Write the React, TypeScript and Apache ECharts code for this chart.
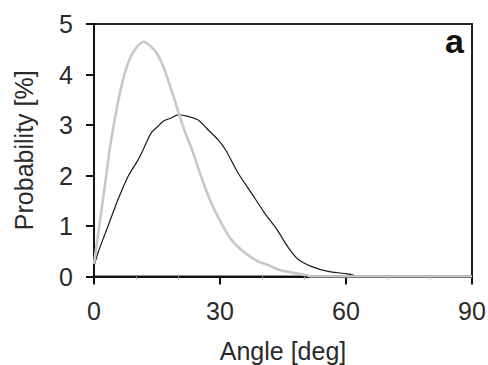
import React, { useEffect, useRef } from "react";
import * as echarts from "echarts";

// Light grey (narrow) distribution
const greyDeg = [0, 1, 2, 3, 3.7, 4.9, 6.5, 8.1, 9.7, 11.8, 13.6, 15.2, 16.8, 18.4, 20, 21.5, 23.3, 25.5, 27.9, 30.3, 32.7, 35.9, 39, 41.4, 43.8, 47, 50.5, 52, 60, 70, 80, 90];
const greyVal = [0.25, 0.85, 1.45, 2.05, 2.5, 3.1, 3.76, 4.22, 4.49, 4.65, 4.55, 4.39, 4.09, 3.7, 3.28, 2.9, 2.52, 1.98, 1.46, 1.06, 0.73, 0.47, 0.3, 0.23, 0.14, 0.08, 0.03, 0, 0, 0, 0, 0];

// Black (wide) distribution
const blackDeg = [0, 0.95, 3.3, 5.7, 8.1, 10.5, 11.7, 13.6, 15.2, 16.4, 18.4, 20, 22.4, 24.8, 27.1, 29.5, 31.3, 34.3, 37.5, 40.6, 43.8, 46.2, 48.6, 51.7, 55.7, 59.7, 61.7, 62];
const blackVal = [0.2, 0.47, 0.99, 1.52, 1.98, 2.31, 2.51, 2.84, 2.97, 3.07, 3.14, 3.2, 3.17, 3.1, 2.91, 2.71, 2.51, 2.05, 1.65, 1.26, 0.9, 0.58, 0.34, 0.2, 0.1, 0.06, 0.03, 0];

const xTicks = { min: 0, max: 90, interval: 30 };
const yTicks = { min: 0, max: 5, interval: 1 };
const xName = "Angle [deg]";
const yName = "Probability [%]";
const panelLabel = "a";

const FONT = "'Liberation Sans', Arial, Helvetica, sans-serif";

export default function App() {
  const ref = useRef<HTMLDivElement>(null);
  useEffect(() => {
    document.body.style.margin = "0";
    if (!ref.current) return;
    const chart = echarts.init(ref.current, null, { renderer: "svg" });
    const greyData = greyDeg.map((d, i) => [d, greyVal[i]]);
    const blackData = blackDeg.map((d, i) => [d, blackVal[i]]);
    chart.setOption({
      animation: false,
      backgroundColor: "#ffffff",
      grid: {
        left: 94,
        right: 16,
        top: 24,
        bottom: 88.5,
        containLabel: false,
        outerBoundsMode: "none",
        show: true,
        borderColor: "#222",
        borderWidth: 2,
        backgroundColor: "transparent",
      },
      xAxis: {
        type: "value",
        min: xTicks.min,
        max: xTicks.max,
        interval: xTicks.interval,
        name: xName,
        nameLocation: "middle",
        nameGap: 62,
        nameTextStyle: { fontFamily: FONT, fontSize: 25, color: "#2a2a2a" },
        axisLine: { show: true, onZero: false, lineStyle: { color: "#111", width: 2 } },
        axisTick: { show: true, inside: false, length: 8, lineStyle: { color: "#111", width: 2 } },
        minorTick: { show: true, splitNumber: 3, length: 3, lineStyle: { color: "#aaa", width: 1 } },
        axisLabel: { fontFamily: FONT, fontSize: 25, color: "#2a2a2a", margin: 22 },
        splitLine: { show: false },
      },
      yAxis: {
        type: "value",
        min: yTicks.min,
        max: yTicks.max,
        interval: yTicks.interval,
        name: yName,
        nameLocation: "middle",
        nameGap: 58,
        nameRotate: 90,
        nameTextStyle: { fontFamily: FONT, fontSize: 25, color: "#2a2a2a" },
        axisLine: { show: true, onZero: false, lineStyle: { color: "#111", width: 2 } },
        axisTick: { show: true, inside: false, length: 8, lineStyle: { color: "#111", width: 2 } },
        axisLabel: { fontFamily: FONT, fontSize: 25, color: "#2a2a2a", margin: 21 },
        splitLine: { show: false },
      },
      series: [
        {
          type: "line",
          data: blackData,
          showSymbol: false,
          smooth: 0.3,
          lineStyle: { color: "#1a1a1a", width: 1.2 },
          z: 3,
        },
        {
          type: "line",
          data: greyData,
          showSymbol: false,
          smooth: 0.3,
          lineStyle: { color: "#c8c8c8", width: 2.6 },
          z: 4,
        },
      ],
      graphic: [
        {
          type: "text",
          right: 24,
          top: 24,
          style: {
            text: panelLabel,
            fontFamily: FONT,
            fontWeight: "bold",
            fontSize: 34,
            fill: "#111",
          },
        },
      ],
    });
    return () => chart.dispose();
  }, []);
  return <div ref={ref} style={{ width: 488, height: 365 }} />;
}
